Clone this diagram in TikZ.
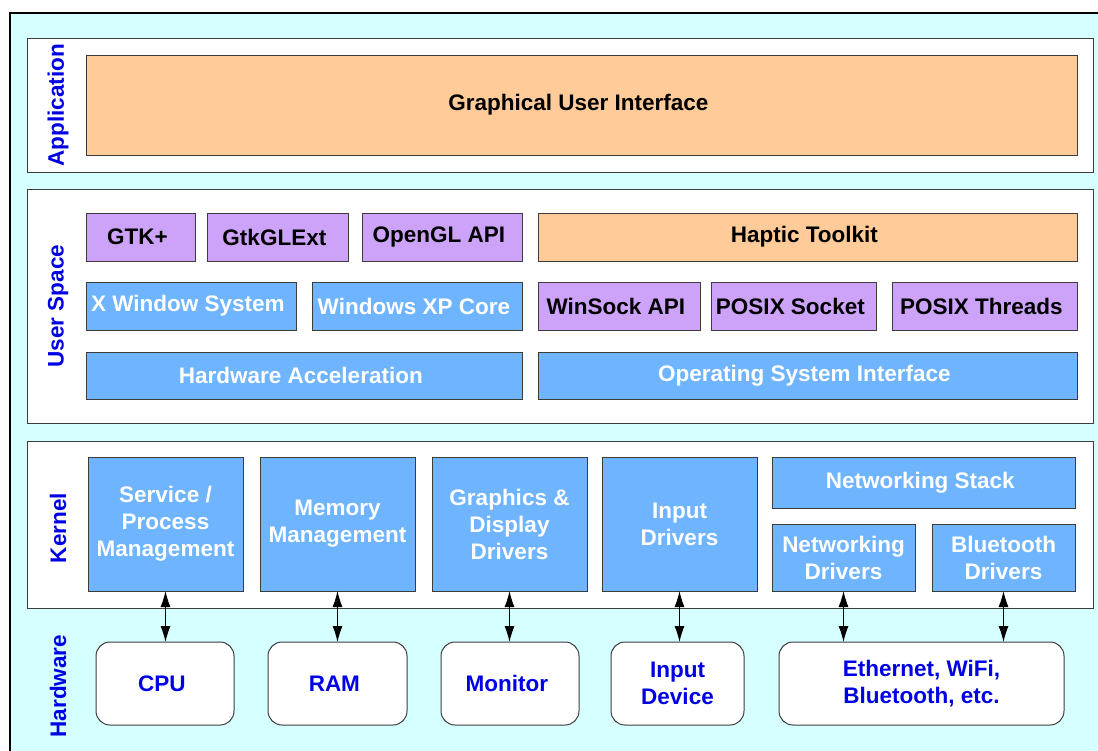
\documentclass[tikz,border=0pt]{standalone}
\usepackage{fontspec}
\setmainfont{Liberation Sans}
\usepackage{tikz}
\usetikzlibrary{arrows.meta}

\definecolor{layerbg}{RGB}{214,255,255}
\definecolor{sysblue}{RGB}{110,180,255}
\definecolor{apipurple}{RGB}{204,163,248}
\definecolor{peach}{RGB}{255,204,153}
\definecolor{labelblue}{RGB}{0,0,230}
\definecolor{edgegray}{RGB}{60,60,60}

\begin{document}
\begin{tikzpicture}[x = 1pt, y = -1pt,
    font = \fontsize{22.5}{27}\selectfont\bfseries,
    every node/.style = { align = center, inner sep = 0pt, outer sep = 0pt },
    layer/.style = { draw = edgegray, fill = white, line width = 1pt },
    sysbox/.style = { draw = edgegray, fill = sysblue, text = white, line width = 1pt },
    apibox/.style = { draw = edgegray, fill = apipurple, text = black, line width = 1pt },
    appbox/.style = { draw = edgegray, fill = peach, text = black, line width = 1pt },
    hwbox/.style = { draw = edgegray, fill = white, text = labelblue, rounded corners = 14pt, line width = 1pt },
    layername/.style = { text = labelblue, rotate = 90 },
    link/.style = { line width = 1pt, {Latex[length=16pt,width=10pt]}-{Latex[length=16pt,width=10pt]} }]
  \useasboundingbox (0,0) rectangle (1098,750);
  \begin{scope}
    \clip (0,0) rectangle (1098,750);
    \draw [fill = layerbg, line width = 1.2pt] (10,13) rectangle (1110,760);
  \end{scope}

  % application
  \node [layer, minimum width = 1066pt, minimum height = 134pt] (application) at (560,105) {};
  \node [layername] (applabel) at (58,102) { Application };
  \node [appbox, minimum width = 991pt, minimum height = 100pt] (gui) at (581.5,105) { Graphical User Interface };

  % user space
  \node [layer, minimum width = 1066pt, minimum height = 234pt] (userspace) at (560,306) {};
  \node [layername] (userlabel) at (58,303) { User Space };
  \node [apibox, minimum width = 109pt, minimum height = 48pt] (gtk) at (140.5,237) { GTK+ };
  \node [apibox, minimum width = 141pt, minimum height = 48pt] (gtkglext) at (277.5,237) { GtkGLExt };
  \node [apibox, minimum width = 160pt, minimum height = 48pt] (opengl) at (442,237) { OpenGL API };
  \node [appbox, minimum width = 539pt, minimum height = 48pt] (haptic) at (807.5,237) { Haptic Toolkit };
  \node [sysbox, minimum width = 210pt, minimum height = 48pt] (xwindow) at (191,306) { X Window System };
  \node [sysbox, minimum width = 210pt, minimum height = 48pt] (winxp) at (417,306) { Windows XP Core };
  \node [apibox, minimum width = 162pt, minimum height = 48pt] (winsock) at (619,306) { WinSock API };
  \node [apibox, minimum width = 165pt, minimum height = 48pt] (posixsock) at (793.5,306) { POSIX Socket };
  \node [apibox, minimum width = 185pt, minimum height = 48pt] (posixthr) at (984.5,306) { POSIX Threads };
  \node [sysbox, minimum width = 436pt, minimum height = 47pt] (hwaccel) at (304,375.5) { Hardware Acceleration };
  \node [sysbox, minimum width = 539pt, minimum height = 47pt] (osif) at (807.5,375.5) { Operating System Interface };

  % kernel
  \node [layer, minimum width = 1066pt, minimum height = 167pt] (kernel) at (560,524.5) {};
  \node [layername] (kernlabel) at (58,525) { Kernel };
  \node [sysbox, minimum width = 155pt, minimum height = 134pt] (procmgmt) at (165.5,524) { Service / \\ Process \\ Management };
  \node [sysbox, minimum width = 155pt, minimum height = 134pt] (memmgmt) at (337.5,524) { Memory \\ Management };
  \node [sysbox, minimum width = 155pt, minimum height = 134pt] (gfxdrv) at (509.5,524) { Graphics \& \\ Display \\ Drivers };
  \node [sysbox, minimum width = 155pt, minimum height = 134pt] (indrv) at (679.5,524) { Input \\ Drivers };
  \node [sysbox, minimum width = 303pt, minimum height = 51pt] (netstack) at (923.5,482.5) { Networking Stack };
  \node [sysbox, minimum width = 143pt, minimum height = 67pt] (netdrv) at (843.5,557.5) { Networking \\ Drivers };
  \node [sysbox, minimum width = 143pt, minimum height = 67pt] (btdrv) at (1003.5,557.5) { Bluetooth \\ Drivers };

  % hardware
  \node [layername] (hwlabel) at (58,683) { Hardware };
  \node [hwbox, minimum width = 138pt, minimum height = 83pt] (cpu) at (165,683.5) { CPU };
  \node [hwbox, minimum width = 139pt, minimum height = 83pt] (ram) at (337.5,683.5) { RAM };
  \node [hwbox, minimum width = 138pt, minimum height = 83pt] (monitor) at (510,683.5) { Monitor };
  \node [hwbox, minimum width = 133pt, minimum height = 83pt] (indev) at (677.5,683.5) { Input \\ Device };
  \node [hwbox, minimum width = 285pt, minimum height = 83pt] (ether) at (921.5,683.5) { Ethernet, WiFi, \\ Bluetooth, etc. };

  \draw [link] (procmgmt.south) -- (procmgmt.south |- cpu.north);
  \draw [link] (memmgmt.south) -- (memmgmt.south |- ram.north);
  \draw [link] (gfxdrv.south) -- (gfxdrv.south |- monitor.north);
  \draw [link] (indrv.south) -- (indrv.south |- indev.north);
  \draw [link] (netdrv.south) -- (netdrv.south |- ether.north);
  \draw [link] (btdrv.south) -- (btdrv.south |- ether.north);

\end{tikzpicture}
\end{document}
